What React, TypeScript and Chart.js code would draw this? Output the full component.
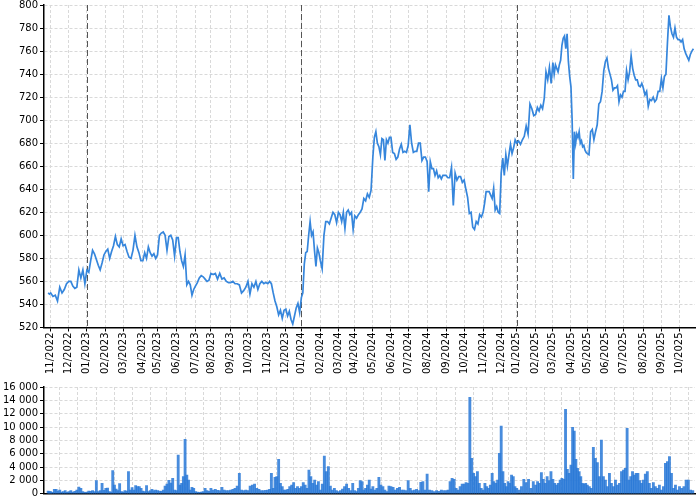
import React, { useEffect, useRef } from 'react';
import { Chart, registerables } from 'chart.js';

Chart.register(...registerables);

// ---------- categories ----------
const MONTHS = [
  '11/2022', '12/2022',
  '01/2023', '02/2023', '03/2023', '04/2023', '05/2023', '06/2023', '07/2023', '08/2023', '09/2023', '10/2023', '11/2023', '12/2023',
  '01/2024', '02/2024', '03/2024', '04/2024', '05/2024', '06/2024', '07/2024', '08/2024', '09/2024', '10/2024', '11/2024', '12/2024',
  '01/2025', '02/2025', '03/2025', '04/2025', '05/2025', '06/2025', '07/2025', '08/2025', '09/2025', '10/2025',
];
// trading days in each month (last month is partial)
const TRADING_DAYS = [
  21, 21,
  22, 20, 23, 17, 22, 22, 18, 23, 20, 23, 21, 18,
  22, 21, 19, 21, 21, 20, 22, 22, 21, 22, 21, 18,
  22, 20, 21, 19, 21, 21, 23, 21, 21, 18,
];
const PRE_DAYS = 3; // last trading days of 10/2022
const YEAR_MARKS = ['01/2023', '01/2024', '01/2025'];

// ---------- price (sampled within each month) ----------
const pricePre = [550, 549];
const price2022 = [
  [550, 547, 548, 543, 555, 550, 553, 558],
  [560, 560, 556, 554, 555, 570, 563, 570, 558],
];
const price2023 = [
  [570, 568, 578, 587, 584, 579, 574, 570, 576, 583],
  [586, 588, 580, 586, 591, 599, 592, 590, 597],
  [591, 592, 586, 581, 580, 587, 600, 590, 585, 578],
  [578, 585, 580, 590, 585, 582, 584, 580],
  [583, 600, 602, 603, 600, 587, 599, 600, 596, 582],
  [598, 598, 586, 578, 573, 583, 557, 560, 557, 548, 553],
  [556, 559, 563, 565, 564, 562, 560, 561],
  [567, 566, 567, 562, 567, 562, 563, 560, 559],
  [559, 560, 558, 558, 557, 550, 552, 555],
  [560, 549, 558, 555, 560, 553, 558, 560, 558, 559],
  [558, 560, 558, 550, 543, 538, 531, 535, 528, 535],
  [536, 530, 534, 527, 523, 530, 537, 541, 533],
];
const price2024 = [
  [546, 550, 575, 585, 586, 600, 612, 600, 603, 587, 573, 589, 585],
  [578, 571, 600, 612, 612, 610, 615, 620, 618, 611],
  [620, 618, 612, 620, 606, 620, 622, 618, 620, 605],
  [617, 615, 618, 620, 623, 632, 630, 636, 633, 639],
  [668, 685, 690, 680, 677, 670, 684, 683, 665, 683, 680, 685],
  [685, 672, 671, 666, 668, 675, 679, 672, 673, 672],
  [678, 696, 680, 672, 673, 673, 680, 680, 665, 668, 668],
  [664, 638, 664, 658, 658, 652, 656, 650, 652, 649, 652, 652],
  [652, 650, 650, 659, 626, 654, 648, 651, 651, 646],
  [648, 640, 633, 619, 620, 607, 605, 612, 610, 618, 616],
  [620, 628, 638, 638, 638, 635, 632, 641, 622, 625, 620, 619],
  [654, 667, 652, 670, 660, 670, 679, 671, 676, 683],
];
const price2025 = [
  [680, 682, 679, 683, 686, 695, 688, 714, 710, 704],
  [705, 711, 708, 713, 710, 719, 742, 735, 746, 732],
  [750, 740, 748, 745, 742, 748, 752, 765, 771, 773, 762, 775, 751, 738],
  [729, 700, 649, 690, 680, 688, 685, 690, 680, 682, 677, 678, 674, 672],
  [671, 670, 690, 692, 683, 690, 696, 714, 716, 725, 743],
  [751, 754, 745, 740, 735, 726, 728, 728, 730, 716, 722, 720],
  [725, 725, 743, 735, 742, 756, 745, 739, 735, 735, 730, 729, 732],
  [728, 722, 725, 712, 718, 717, 720, 716, 718, 725, 725],
  [736, 728, 738, 740, 767, 791, 781, 775, 772, 780, 772, 770],
  [770, 768, 770, 762, 758, 755, 752, 757, 760, 762],
];

// ---------- volume (sampled within each month) ----------
const volumePre = [400, 300];
const volume2022 = [
  [300, 200, 650, 650, 400, 550, 250, 300, 450, 200],
  [300, 450, 250, 350, 550, 1000, 800, 300, 200],
];
const volume2023 = [
  [250, 400, 350, 450, 300, 1950, 300, 450, 1550, 500],
  [800, 850, 300, 250, 3450, 1300, 700, 450, 1500, 300],
  [250, 450, 400, 3300, 550, 900, 550, 1200, 1050, 1050, 800],
  [400, 300, 1200, 300, 450, 650, 450, 550],
  [450, 400, 350, 550, 1150, 1450, 2000, 1600, 2300, 550],
  [450, 5800, 1300, 1550, 2550, 8150, 2800, 2050, 550, 950, 800],
  [300, 250, 200, 250, 300, 800, 450, 350],
  [800, 550, 650, 500, 450, 950, 550, 450, 450],
  [550, 650, 800, 1150, 3050, 550, 450, 550],
  [450, 1150, 1300, 1450, 800, 650, 450, 450, 500],
  [550, 650, 3050, 800, 2450, 2550, 5150, 1550, 1050, 550],
  [550, 650, 1050, 1300, 1650, 800, 1050, 800],
];
const volume2024 = [
  [1050, 1650, 1300, 800, 3550, 2550, 1550, 2050, 1300, 1800],
  [550, 1450, 5650, 3300, 4050, 1150, 550, 800, 450],
  [300, 450, 700, 1050, 1450, 800, 450, 1550],
  [450, 300, 800, 1950, 1800, 550, 800, 1300, 2050, 700],
  [1050, 550, 800, 2450, 1300, 1050, 550, 300, 1150],
  [1050, 950, 550, 800, 950, 550, 550, 450],
  [1950, 800, 450, 550, 650, 450, 1700, 1800, 550],
  [2950, 550, 450, 300, 450, 350, 550, 450],
  [450, 550, 1800, 2300, 2150, 800, 550, 1050, 1450],
  [1450, 1650, 1550, 14450, 5300, 3050, 2550, 3300, 1550, 800],
  [550, 1550, 1050, 800, 1300, 3050, 1800, 1550, 2050, 6050],
  [10150, 3300, 1550, 1050, 1800, 1550, 2800, 2550, 1050],
];
const volume2025 = [
  [800, 550, 1050, 2150, 1650, 2150, 800, 1800],
  [1300, 1800, 1550, 3150, 2150, 1550, 2550, 1950, 3300],
  [2150, 1550, 1300, 1550, 2050, 2300, 2150, 12650, 3650, 3050],
  [4300, 9950, 9400, 5150, 3800, 3300, 2550, 1550, 1450, 1550],
  [1300, 1050, 800, 6950, 5300, 4650, 2550, 8050, 2550],
  [2050, 1050, 3050, 1550, 1050, 2050, 1300, 1550, 3300],
  [3550, 3800, 9800, 2050, 2550, 3300, 2800, 3050, 3050, 1950, 1550],
  [2050, 2950, 3300, 1550, 800, 1650, 1050, 800, 1300],
  [550, 1050, 4550, 4800, 5550, 3050, 800, 1300, 550],
  [1050, 800, 1050, 2050, 2050, 550, 450],
];

// ---------- helpers ----------
const MONTH_STARTS: number[] = (() => {
  let acc = 0;
  return TRADING_DAYS.map((d) => {
    const s = acc;
    acc += d;
    return s;
  });
})();
const X_MIN = -7.8;
const X_MAX = 748;

function spread(pre: number[], groups: number[][]) {
  const pts: { x: number; y: number }[] = [];
  pre.forEach((v, i) => pts.push({ x: -PRE_DAYS + (i * PRE_DAYS) / pre.length, y: v }));
  groups.forEach((vals, m) => {
    const start = MONTH_STARTS[m];
    const days = TRADING_DAYS[m];
    vals.forEach((v, i) => pts.push({ x: start + (i * days) / vals.length, y: v }));
  });
  return pts;
}

const FONT = { family: 'DejaVu Sans', size: 10 };
const GRID_COLOR = '#d9d9d9';

const fmtThousands = (v: number) => String(v).replace(/\B(?=(\d{3})+(?!\d))/g, ' ');

const yearLinesPlugin = {
  id: 'yearLines',
  beforeDatasetsDraw(chart: any) {
    const { ctx, chartArea, scales } = chart;
    const xs = scales.x;
    ctx.save();
    ctx.strokeStyle = '#555';
    ctx.lineWidth = 1;
    ctx.setLineDash([6, 3]);
    YEAR_MARKS.forEach((label) => {
      const idx = MONTHS.indexOf(label);
      const px = Math.round(xs.getPixelForValue(MONTH_STARTS[idx])) + 0.5;
      ctx.beginPath();
      ctx.moveTo(px, chartArea.top);
      ctx.lineTo(px, chartArea.bottom);
      ctx.stroke();
    });
    ctx.restore();
  },
};

function xScale(showLabels: boolean, height: number) {
  return {
    type: 'linear' as const,
    min: X_MIN,
    max: X_MAX,
    offset: false,
    afterBuildTicks: (scale: any) => {
      scale.ticks = MONTH_STARTS.map((v) => ({ value: v }));
    },
    afterFit: (scale: any) => {
      scale.height = height;
      scale.paddingLeft = 0;
      scale.paddingRight = 0;
    },
    ticks: {
      display: showLabels,
      autoSkip: false,
      maxRotation: 90,
      minRotation: 90,
      padding: 1,
      color: '#000',
      font: FONT,
      callback: (_v: any, i: number) => MONTHS[i],
    },
    grid: {
      color: GRID_COLOR,
      lineWidth: 1,
      drawTicks: showLabels,
      tickLength: showLabels ? 4 : 0,
      tickColor: '#000',
      tickBorderDash: [],
    },
    border: { display: true, color: '#000', width: 1.5, dash: [3, 2] },
  };
}

function yScale(min: number, max: number, step: number, fmt?: (v: number) => string) {
  return {
    type: 'linear' as const,
    min,
    max,
    afterFit: (scale: any) => {
      scale.width = 44;
      scale.paddingTop = 0;
      scale.paddingBottom = 0;
    },
    ticks: {
      stepSize: step,
      autoSkip: false,
      padding: 2,
      color: '#000',
      font: FONT,
      callback: (v: any) => (fmt ? fmt(Number(v)) : String(v)),
    },
    grid: {
      color: GRID_COLOR,
      lineWidth: 1,
      drawTicks: true,
      tickLength: 4,
      tickColor: '#000',
      tickBorderDash: [],
    },
    border: { display: true, color: '#000', width: 1.5, dash: [3, 2] },
  };
}

export default function App() {
  const topRef = useRef<HTMLCanvasElement>(null);
  const botRef = useRef<HTMLCanvasElement>(null);

  useEffect(() => {
    const pricePts = spread(pricePre, [...price2022, ...price2023, ...price2024, ...price2025]);
    const volPts = spread(volumePre, [...volume2022, ...volume2023, ...volume2024, ...volume2025]);

    const top = new Chart(topRef.current!, {
      type: 'line',
      data: {
        datasets: [
          {
            data: pricePts,
            borderColor: '#3686dc',
            borderWidth: 1.7,
            pointRadius: 0,
            tension: 0,
            fill: false,
          },
        ],
      },
      options: {
        responsive: false,
        animation: false,
        devicePixelRatio: 1,
        layout: { padding: { top: 5, right: 5, left: 0, bottom: 0 } },
        plugins: { legend: { display: false }, tooltip: { enabled: false } },
        scales: {
          x: xScale(true, 54.5),
          y: yScale(520, 800, 20),
        },
      },
      plugins: [yearLinesPlugin],
    });

    const bot = new Chart(botRef.current!, {
      type: 'bar',
      data: {
        datasets: [
          {
            data: volPts,
            backgroundColor: 'rgba(40,120,215,0.85)',
            borderWidth: 0,
            barThickness: 2.2,
          },
        ],
      },
      options: {
        responsive: false,
        animation: false,
        devicePixelRatio: 1,
        layout: { padding: { top: 5, right: 5, left: 0, bottom: 0 } },
        plugins: { legend: { display: false }, tooltip: { enabled: false } },
        scales: {
          x: xScale(false, 6.3),
          y: yScale(0, 16000, 2000, fmtThousands),
        },
      },
    });

    return () => {
      top.destroy();
      bot.destroy();
    };
  }, []);

  return (
    <div style={{ position: 'absolute', left: 0, top: 0, width: 700, height: 500, background: '#fff' }}>
      <canvas ref={topRef} width={700} height={382} style={{ display: 'block', width: 700, height: 382 }} />
      <canvas ref={botRef} width={700} height={118} style={{ display: 'block', width: 700, height: 118 }} />
    </div>
  );
}
